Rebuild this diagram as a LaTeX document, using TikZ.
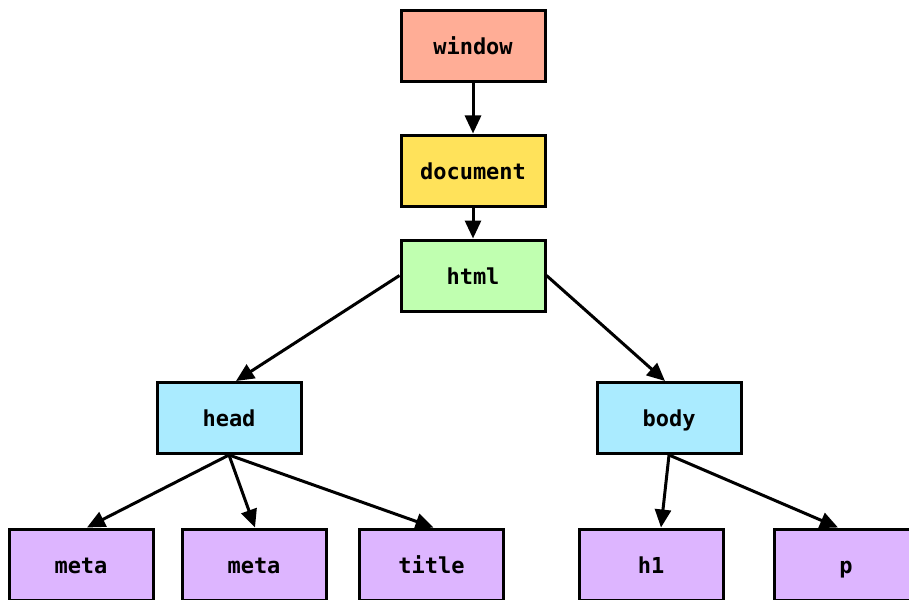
\documentclass[tikz,border=0pt]{standalone}
\usepackage{fontspec}
\setmonofont{DejaVu Sans Mono}
\usetikzlibrary{positioning, arrows.meta}
\definecolor{winfill}{RGB}{255,173,150}
\definecolor{docfill}{RGB}{255,226,90}
\definecolor{htmlfill}{RGB}{192,255,176}
\definecolor{secfill}{RGB}{170,235,255}
\definecolor{leaffill}{RGB}{221,181,255}
\tikzset{box/.style = {rectangle,draw=black,line width=3pt,minimum width=144pt,minimum height=71pt,
        text height=21pt,text depth=4pt,font=\fontsize{22}{26}\selectfont\ttfamily\bfseries}}
\tikzset{edge/.style = {line width=3pt,-{Triangle[length=18pt,width=16pt]}}}

\begin{document}
\begin{tikzpicture}[x=1pt,y=-1pt]
        \useasboundingbox (0,0) rectangle (909,599);
        \node [box,fill=winfill] (window) at (473,46.5) {window};
        \node [box,fill=docfill] (doc) at (473,170.5) {document};
        \node [box,fill=htmlfill] (html) at (473,275.5) {html};
        \node [box,fill=secfill] (head) at (229,418) {head};
        \node [box,fill=secfill] (body) at (669,418) {body};
        \node [box,fill=leaffill] (metaA) at (81,564.5) {meta};
        \node [box,fill=leaffill] (metaB) at (254,564.5) {meta};
        \node [box,fill=leaffill] (title) at (431.5,564.5) {title};
        \node [box,fill=leaffill] (hone) at (651,564.5) {h1};
        \node [box,fill=leaffill] (para) at (846,564.5) {p};
        \draw [edge] (window) -- (doc);
        \draw [edge] (doc) -- (html);
        \draw [edge] (html.west) -- ([xshift=7pt]head.north);
        \draw [edge] (html.east) -- ([xshift=-4pt]body.north);
        \draw [edge] (head.south) -- ([xshift=6pt]metaA.north);
        \draw [edge] (head.south) -- ([xshift=1pt]metaB.north);
        \draw [edge] (head.south) -- ([xshift=2pt]title.north);
        \draw [edge] (body.south) -- ([xshift=10pt]hone.north);
        \draw [edge] (body.south) -- ([xshift=-8pt]para.north);
    \end{tikzpicture}
\end{document}
